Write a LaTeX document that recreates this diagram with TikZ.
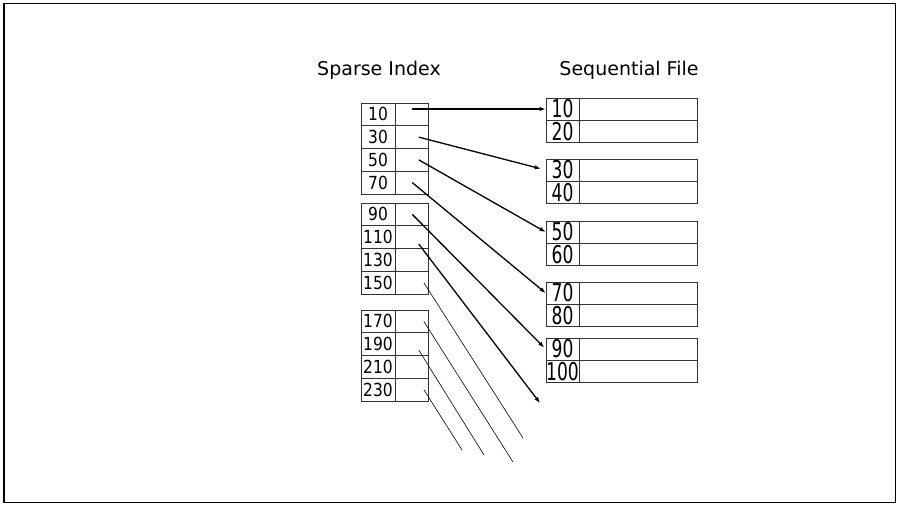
\documentclass[tikz,border=0pt]{standalone}
\usepackage{fontspec}
\setmainfont{DejaVu Sans}
\newfontfamily\idxfont{DejaVu Sans}[FakeStretch=0.86]
\newfontfamily\seqfont{DejaVu Sans}[FakeStretch=0.7]
\usetikzlibrary{positioning,arrows.meta,calc}
\tikzset{
  idx/.style={draw=black!80,line width=0.8pt,minimum width=34pt,minimum height=22.75pt,inner sep=0pt,
    font=\idxfont\fontsize{18}{18}\selectfont},
  ptr/.style={draw=black!80,line width=0.8pt,minimum width=33pt,minimum height=22.75pt,inner sep=0pt},
  rec/.style={draw=black!80,line width=0.8pt,minimum width=33pt,minimum height=22pt,inner sep=0pt,
    font=\seqfont\fontsize{24.5}{24.5}\selectfont},
  dat/.style={draw=black!80,line width=0.8pt,minimum width=118pt,minimum height=22pt,inner sep=0pt},
  link/.style={-{Latex[length=6pt,width=4.5pt]},line width=1.3pt},
  lost/.style={line width=0.6pt},
  title/.style={anchor=base,font=\fontsize{19}{19}\selectfont},
}

\begin{document}
\begin{tikzpicture}[x=1pt,y=-1pt]
  \useasboundingbox (0,0) rectangle (897,506);
  \draw[line width=1.6pt] (4,3.5) rectangle (895.5,502.5);

  \node[title] (ttlidx) at (379,75) {Sparse Index};
  \node[title] (ttlseq) at (629,75) {Sequential File};

  % index blocks
  \foreach \ytop/\ka/\kb/\kc/\kd in {103/10/30/50/70,203/90/110/130/150,310/170/190/210/230}
    \foreach \k [count=\r] in {\ka,\kb,\kc,\kd} {
      \node[idx] (k\k) at (378,{\ytop+(\r-0.5)*22.75}) {\k};
      \node[ptr,right=0pt of k\k] (p\k) {};
    }

  % sequential file blocks
  \foreach \ytop/\ka/\kb in {98/10/20,159/30/40,221/50/60,282/70/80,338/90/100} {
    \node[rec] (r\ka) at (562.5,{\ytop+11}) {\ka};
    \node[dat,right=0pt of r\ka] (d\ka) {};
    \node[rec,below=0pt of r\ka] (r\kb) {\kb};
    \node[dat,right=0pt of r\kb] (d\kb) {};
  }

  \coordinate (s30) at ([xshift=6.5pt]p30.center);
  \coordinate (s50) at ([xshift=6.5pt]p50.center);
  \coordinate (s110) at ([xshift=6.5pt,yshift=-7pt]p110.center);
  \coordinate (s150) at ([xshift=11.5pt]p150.center);
  \coordinate (s170) at ([xshift=11.5pt]p170.center);
  \coordinate (s190) at ([xshift=6.5pt,yshift=-6pt]p190.center);
  \coordinate (s230) at ([xshift=11.5pt]p230.center);
  \coordinate (e110) at (540,403);
  \coordinate (e150) at (523,438);
  \coordinate (e170) at (513,462);
  \coordinate (e190) at (484,455);
  \coordinate (e230) at (462,450);

  \draw[link] (p10.center |- r10.west) -- (r10.west);
  \draw[link,shorten >=5pt] (s30) -- (r30.west);
  \draw[link] (s50) -- (r50.west);
  \draw[link] (p70.center) -- (r70.west);
  \draw[link,shorten >=2pt] (p90.center) -- (r90.west);
  \draw[link] (s110) -- (e110);
  \draw[lost] (s150) -- (e150);
  \draw[lost] (s170) -- (e170);
  \draw[lost] (s190) -- (e190);
  \draw[lost] (s230) -- (e230);
\end{tikzpicture}
\end{document}
